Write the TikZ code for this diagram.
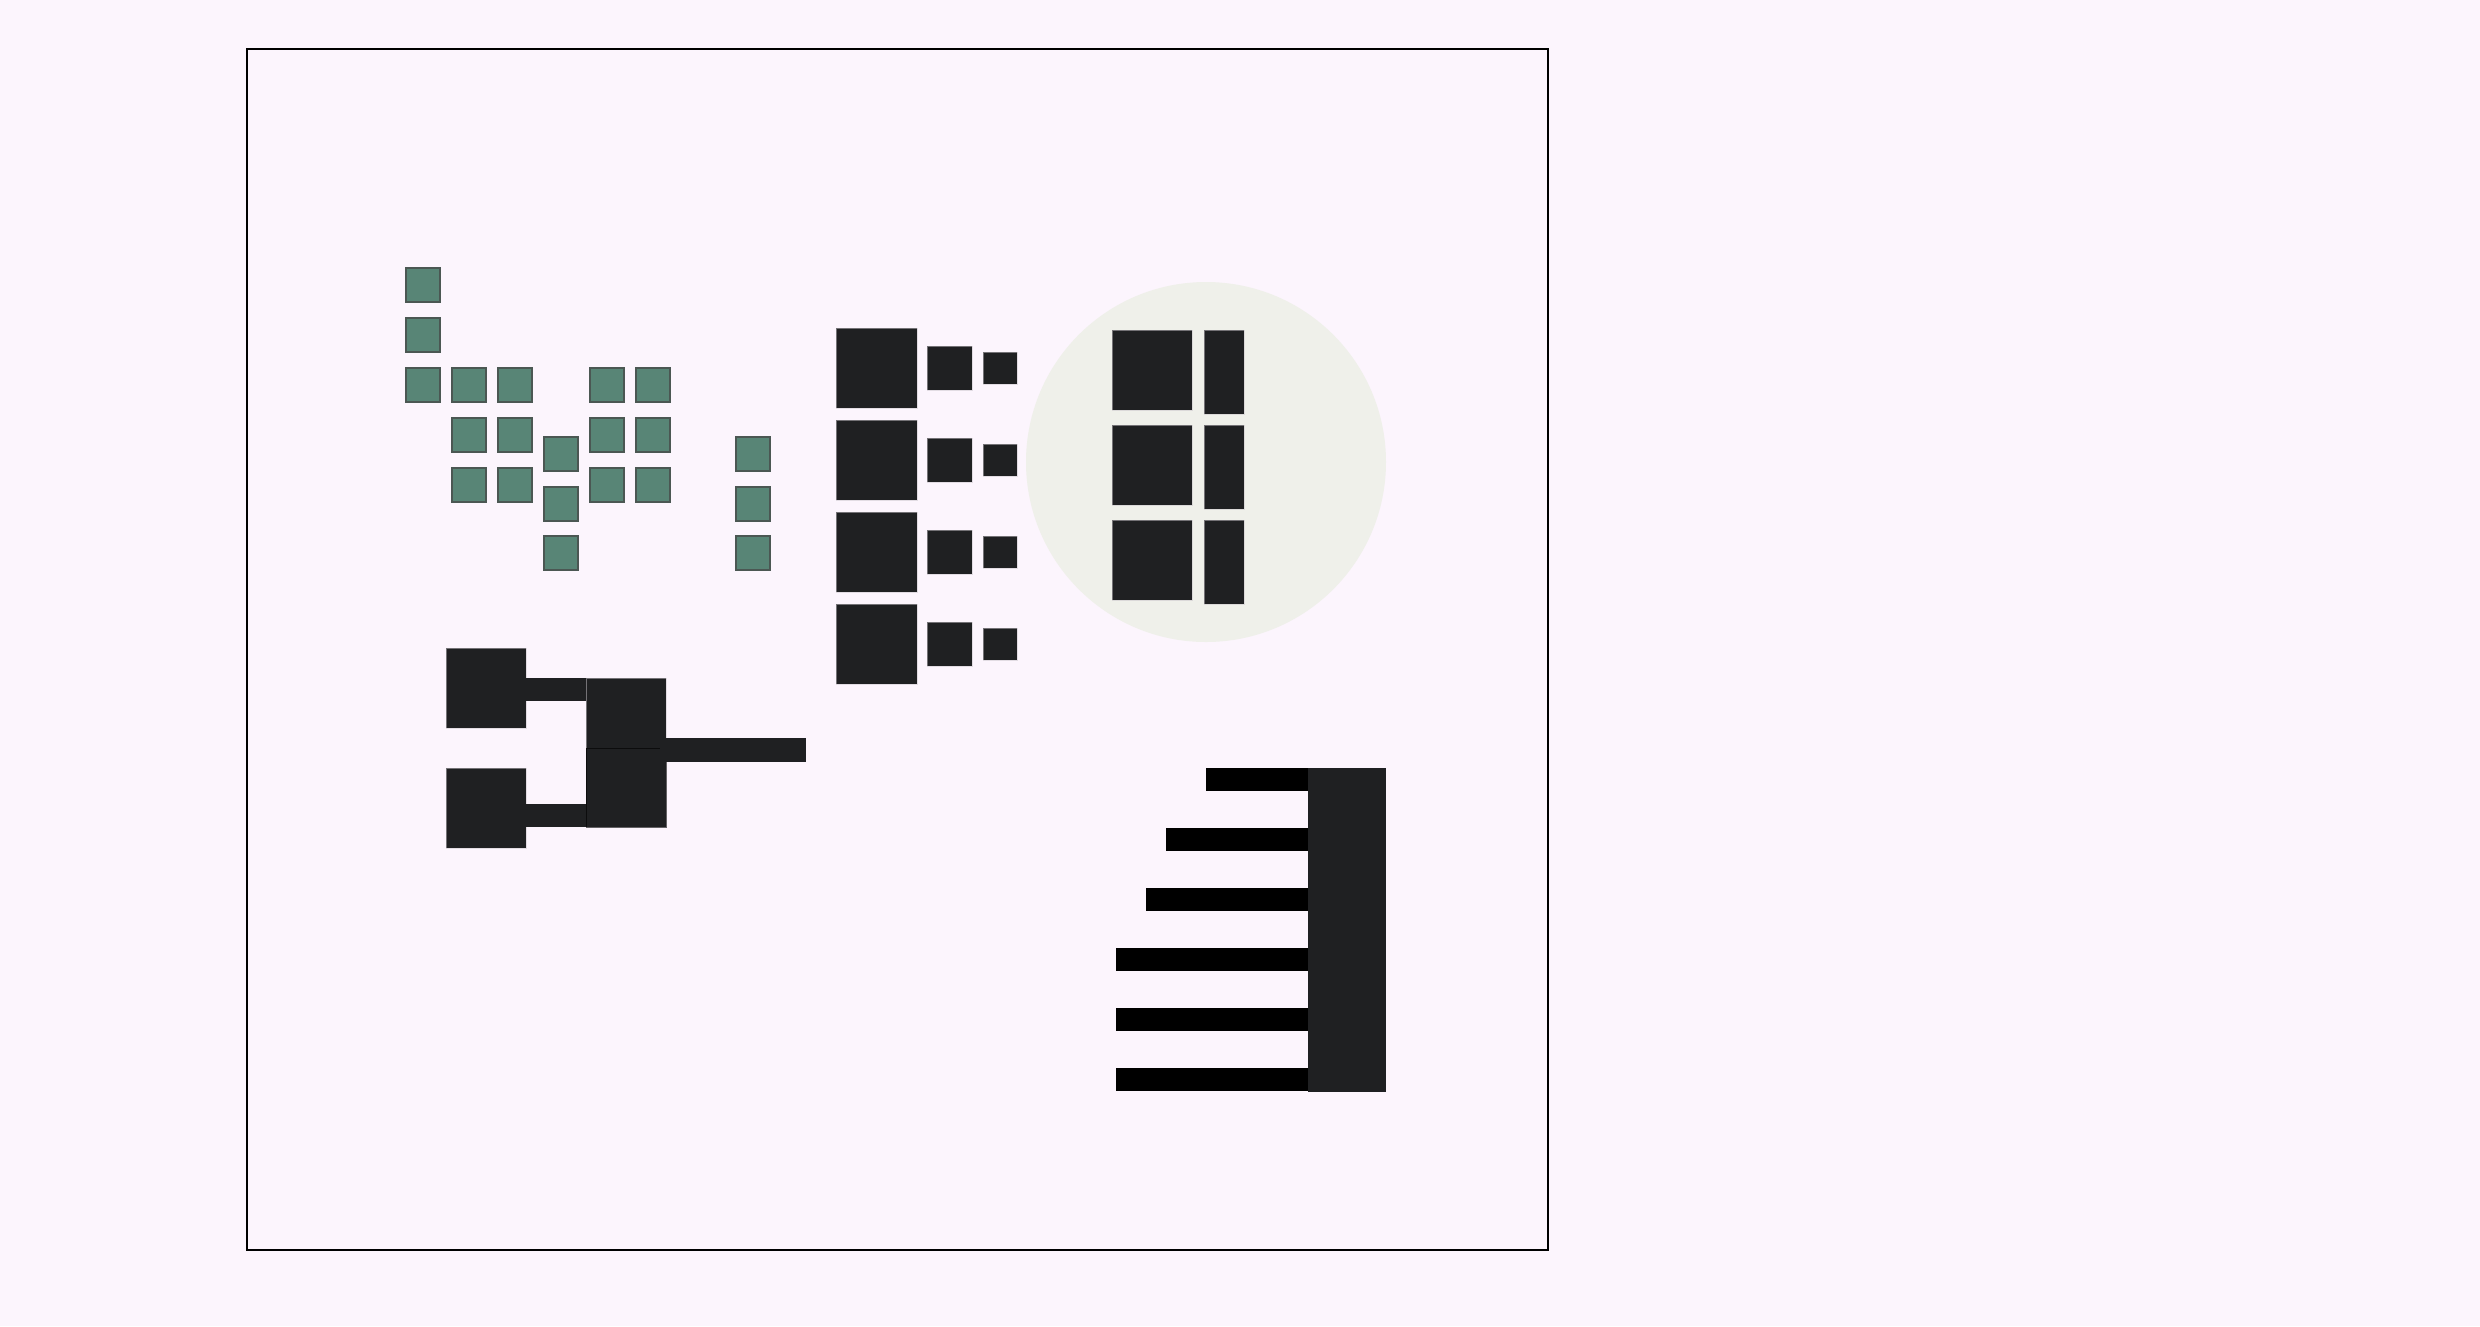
\documentclass[tikz,border=0pt]{standalone}
\usepackage{xcolor}
\definecolor{bgpink}{HTML}{FCF5FD}
\definecolor{tilegreen}{HTML}{588576}
\definecolor{tileedge}{HTML}{4B5753}
\definecolor{blockdark}{HTML}{1F2022}
\definecolor{blockedge}{HTML}{C9C4CA}
\definecolor{discgray}{HTML}{EFF0EA}

\begin{document}
\begin{tikzpicture}[x=0.01cm,y=-0.01cm,
  tile/.style={fill=tilegreen,draw=tileedge,line width=0.5pt},
  block/.style={fill=blockdark,draw=blockedge,draw opacity=0.5,line width=0.2pt},
  rung/.style={fill=black,draw=blockedge,draw opacity=0.5,line width=0.2pt}]
\fill[bgpink] (0,0) rectangle (2480,1326);
\useasboundingbox (0,0) rectangle (2480,1326);
\draw[line width=0.6pt] (247,49) rectangle (1548,1250);

% green tiles
\foreach \x/\y in {406/268,406/318,406/368,452/368,452/418,452/468,498/368,498/418,498/468,
  544/437,544/487,544/536,590/368,590/418,590/468,636/368,636/418,636/468,736/437,736/487,736/536}
  \draw[tile] (\x,\y) rectangle ++(34,34);

% column of blocks
\foreach \y in {0,92,184,276}{
  \draw[block] (836,328+\y) rectangle ++(81,80);
  \draw[block] (927,346+\y) rectangle ++(45,44);
  \draw[block] (983,352+\y) rectangle ++(34,32);
}

% disc
\fill[discgray] (1206,462) circle (180);
\foreach \y in {0,95,190}{
  \draw[block] (1112,330+\y) rectangle ++(80,80);
  \draw[block] (1204,330+\y) rectangle ++(40,84);
}

% hub
\draw[block] (446,648) rectangle (526,728);
\draw[block] (446,768) rectangle (526,848);
\fill[blockdark] (520,678) rectangle (590,701);
\fill[blockdark] (520,804) rectangle (590,827);
\draw[block] (586,678) rectangle (666,758);
\draw[block,draw=black,draw opacity=0.6] (586,748) rectangle (666,827);
\fill[blockdark] (660,738) rectangle (806,762);

% comb
\foreach \y/\l in {768/1206,828/1166,888/1146,948/1116,1008/1116,1068/1116}
  \fill[black] (\l,\y) rectangle (1312,\y+23);
\fill[blockdark] (1308,768) rectangle (1386,1092);

\end{tikzpicture}
\end{document}
